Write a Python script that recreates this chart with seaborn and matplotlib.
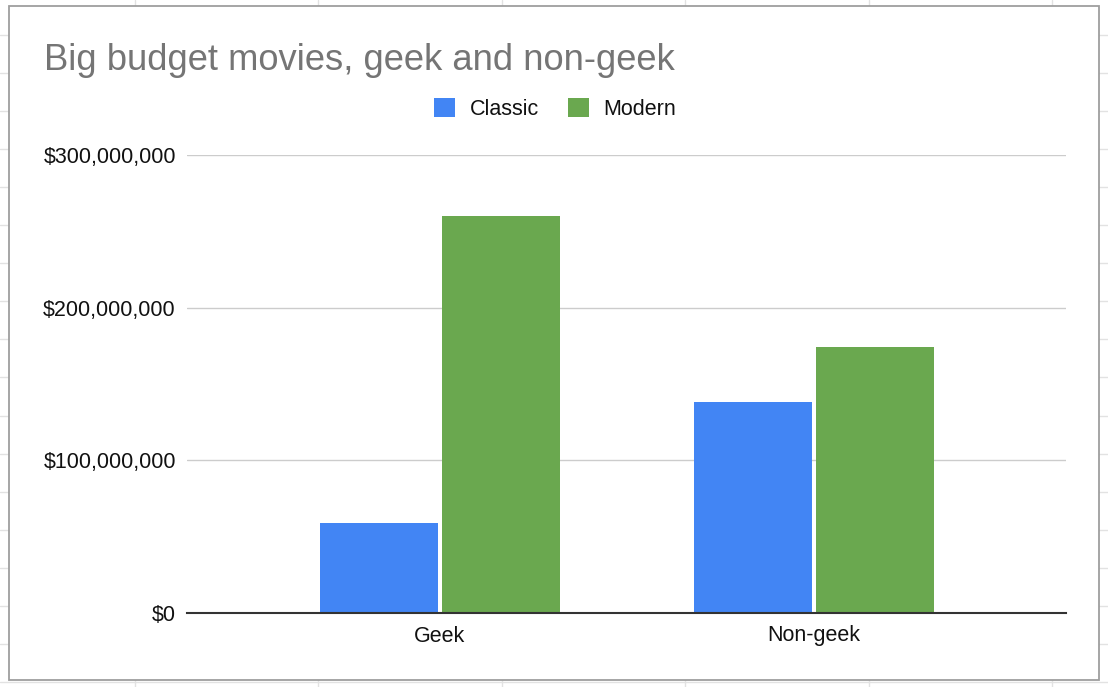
import pandas as pd
import seaborn as sns
import matplotlib.pyplot as plt
from matplotlib.lines import Line2D
from matplotlib.patches import Rectangle, Patch
from matplotlib.ticker import FuncFormatter

categories = ["Geek", "Non-geek"]
eras = ["Classic", "Modern"]
classic_budget = [59_000_000, 138_000_000]
modern_budget = [260_000_000, 174_500_000]
y_ticks = [0, 100_000_000, 200_000_000, 300_000_000]

blue = "#4285F4"
green = "#6AA84F"

df = pd.DataFrame({
    "category": categories * 2,
    "era": ["Classic"] * 2 + ["Modern"] * 2,
    "budget": classic_budget + modern_budget,
})

sns.set_style("white")
plt.rcParams['font.family'] = ['Liberation Sans', 'DejaVu Sans']

W, H = 1108, 687
fig = plt.figure(figsize=(W / 100, H / 100), dpi=100)
fig.patch.set_facecolor("white")

# spreadsheet cells behind the chart
for x in [135, 318, 502, 685, 869, 1052]:
    fig.add_artist(Line2D([x / W, x / W], [0, 1], color="#e2e2e2", lw=1, zorder=-3))
for i in range(18):
    y = 35 + 38.05 * i
    fig.add_artist(Line2D([0, 1], [1 - y / H, 1 - y / H], color="#e2e2e2", lw=1, zorder=-3))
fig.add_artist(Rectangle((9 / W, 1 - 680 / H), 1090 / W, 674 / H,
                         facecolor="white", edgecolor="#9e9e9e", lw=1.3, zorder=-1))

ax = fig.add_axes([187 / W, 74 / H, 879 / W, 458 / H])
ax.patch.set_alpha(0)

sns.barplot(data=df, x="category", y="budget", hue="era", order=categories,
            hue_order=eras, palette=[blue, green], width=0.65, gap=0.03,
            saturation=1, errorbar=None, linewidth=0, ax=ax, legend=False)

ax.set_xlim(-0.676, 1.674)
ax.set_ylim(0, 300_000_000)
ax.set_yticks(y_ticks)
ax.yaxis.set_major_formatter(FuncFormatter(lambda v, p: "${:,.0f}".format(v)))
ax.grid(axis="y", color="#cccccc", lw=1)
ax.set_axisbelow(True)
for s in ["top", "right", "left"]:
    ax.spines[s].set_visible(False)
ax.spines["bottom"].set_color("#333333")
ax.spines["bottom"].set_linewidth(1.5)
ax.spines["bottom"].set_zorder(5)
ax.tick_params(axis="both", length=0, labelsize=15.5, colors="#111111")
ax.tick_params(axis="y", pad=8)
ax.tick_params(axis="x", pad=9)
ax.set_xlabel("")
ax.set_ylabel("")

fig.text(44 / W, 1 - 70 / H, "Big budget movies, geek and non-geek",
         fontsize=26.2, color="#757575", va="baseline", ha="left")

handles = [Patch(facecolor=blue, edgecolor="none"), Patch(facecolor=green, edgecolor="none")]
fig.legend(handles, eras, loc="center", bbox_to_anchor=(555 / W, 1 - 109 / H),
           ncol=2, frameon=False, fontsize=15.5, handlelength=1.0, handleheight=1.0,
           handletextpad=0.65, columnspacing=1.35, labelcolor="#111111")

fig.savefig("out.png", dpi=100)
